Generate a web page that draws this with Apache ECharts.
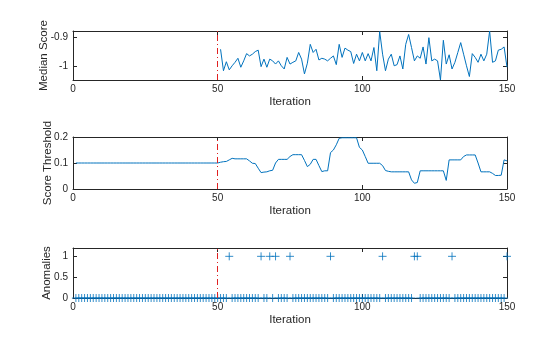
<!DOCTYPE html>
<html><head><meta charset="utf-8">
<script src="https://cdn.jsdelivr.net/npm/echarts@6/dist/echarts.min.js"></script>
<style>html,body{margin:0;padding:0;background:#fff}#c{width:560px;height:337px}</style>
</head><body><div id="c"></div>
<script>
// ---- data ----
const xTicks = [0, 50, 100, 150];
const trainEnd = 50;
const medianStart = 51;
const medianScore = [
 -0.940,-1.014,-0.983,-1.011,-0.997,-0.985,-0.971,-1.002,-0.980,-0.955,
 -0.963,-0.957,-0.948,-0.943,-1.000,-0.974,-1.002,-0.974,-0.980,-0.991,
 -0.980,-0.997,-1.008,-0.968,-0.991,-0.985,-0.980,-0.951,-0.974,-1.025,
 -0.988,-0.923,-0.951,-0.940,-0.977,-0.971,-0.974,-0.980,-0.971,-0.963,
 -0.993,-0.923,-0.968,-0.936,-0.943,-0.948,-0.989,-0.957,-0.980,-0.951,
 -0.980,-0.955,-0.980,-0.934,-1.014,-0.879,-0.957,-1.014,-0.974,-0.957,
 -0.997,-0.993,-0.963,-1.008,-0.923,-0.889,-0.934,-0.980,-0.963,-0.971,
 -0.932,-0.991,-0.900,-0.980,-0.974,-0.980,-1.046,-0.909,-0.991,-0.959,
 -1.008,-0.985,-0.951,-0.917,-0.957,-0.997,-1.034,-0.955,-0.968,-0.985,
 -0.957,-0.980,-0.957,-0.877,-0.985,-0.980,-0.943,-0.940,-0.932,-1.002
];
const medianTicks = [-1, -0.9];
const threshold = [
 0.1,0.1,0.1,0.1,0.1,0.1,0.1,0.1,0.1,0.1,
 0.1,0.1,0.1,0.1,0.1,0.1,0.1,0.1,0.1,0.1,
 0.1,0.1,0.1,0.1,0.1,0.1,0.1,0.1,0.1,0.1,
 0.1,0.1,0.1,0.1,0.1,0.1,0.1,0.1,0.1,0.1,
 0.1,0.1,0.1,0.1,0.1,0.1,0.1,0.1,0.1,0.1,
 0.103,0.105,0.106,0.112,0.118,0.116,0.116,0.116,0.116,0.116,
 0.108,0.099,0.098,0.080,0.063,0.065,0.066,0.070,0.072,0.100,
 0.114,0.114,0.114,0.114,0.125,0.132,0.132,0.132,0.132,0.110,
 0.086,0.095,0.114,0.114,0.090,0.067,0.070,0.070,0.140,0.150,
 0.170,0.195,0.197,0.197,0.197,0.197,0.197,0.197,0.160,0.150,
 0.125,0.099,0.099,0.099,0.099,0.099,0.090,0.071,0.068,0.066,
 0.066,0.066,0.066,0.066,0.066,0.066,0.035,0.022,0.025,0.070,
 0.070,0.070,0.070,0.070,0.070,0.070,0.070,0.070,0.033,0.112,
 0.112,0.112,0.112,0.112,0.125,0.131,0.131,0.131,0.131,0.100,
 0.066,0.066,0.066,0.066,0.060,0.052,0.052,0.053,0.112,0.108
];
const thresholdTicks = [0, 0.1, 0.2];
const anomalyIterations = [54, 65, 68, 70, 75, 89, 107, 118, 119, 131, 150];
const anomalyTicks = [0, 0.5, 1];
const nIter = 150;

// ---- build ----
const blue = '#0072BD', axisCol = '#262626', red = '#E02020';
const medianData = medianScore.map((v, k) => [medianStart + k, v]);
const thresholdData = threshold.map((v, k) => [k + 1, v]);
const anomalyData = [];
for (let i = 1; i <= nIter; i++) anomalyData.push([i, anomalyIterations.includes(i) ? 1 : 0]);

const grids = [
  {left: 73, top: 31, width: 434, height: 49},
  {left: 73, top: 137, width: 434, height: 52},
  {left: 73, top: 248, width: 434, height: 50}
];
const yConf = [
  {name: 'Median Score', min: -1.046, max: -0.877, ticks: medianTicks, gap: 23},
  {name: 'Score Threshold', min: 0, max: 0.2, ticks: thresholdTicks, gap: 19},
  {name: 'Anomalies', min: 0, max: 1.2, ticks: anomalyTicks, gap: 20}
];
const font = 'Liberation Sans, Arial, Helvetica, sans-serif';
const xAxis = [], yAxis = [];
grids.forEach((g, gi) => {
  xAxis.push({
    type: 'value', gridIndex: gi, min: 0, max: 150, position: 'bottom',
    name: 'Iteration', nameLocation: 'middle', nameGap: 16,
    nameTextStyle: {color: axisCol, fontSize: 11.5, fontFamily: font},
    axisLine: {show: true, onZero: false, lineStyle: {color: axisCol, width: 1}},
    axisTick: {show: true, inside: true, length: 4, customValues: xTicks, lineStyle: {color: axisCol}},
    axisLabel: {show: true, customValues: xTicks, margin: 4, color: axisCol, fontSize: 10, fontFamily: font},
    splitLine: {show: false}
  });
  xAxis.push({
    type: 'value', gridIndex: gi, min: 0, max: 150, position: 'top',
    axisLine: {show: true, onZero: false, lineStyle: {color: axisCol, width: 1}},
    axisTick: {show: true, inside: true, length: 4, customValues: xTicks, lineStyle: {color: axisCol}},
    axisLabel: {show: false}, splitLine: {show: false}
  });
  const y = yConf[gi];
  yAxis.push({
    type: 'value', gridIndex: gi, min: y.min, max: y.max, position: 'left',
    name: y.name, nameLocation: 'middle', nameGap: y.gap, nameRotate: 90,
    nameMoveOverlap: false,
    nameTextStyle: {color: axisCol, fontSize: 11.5, fontFamily: font},
    axisLine: {show: true, onZero: false, lineStyle: {color: axisCol, width: 1}},
    axisTick: {show: true, inside: true, length: 4, customValues: y.ticks, lineStyle: {color: axisCol}},
    axisLabel: {show: true, customValues: y.ticks, margin: 5, color: axisCol, fontSize: 10, fontFamily: font},
    splitLine: {show: false}
  });
  yAxis.push({
    type: 'value', gridIndex: gi, min: y.min, max: y.max, position: 'right',
    axisLine: {show: true, onZero: false, lineStyle: {color: axisCol, width: 1}},
    axisTick: {show: true, inside: true, length: 4, customValues: y.ticks, lineStyle: {color: axisCol}},
    axisLabel: {show: false}, splitLine: {show: false}
  });
});

const vline = {
  silent: true, symbol: 'none', label: {show: false},
  lineStyle: {color: red, width: 1, type: [6, 3, 1, 3]},
  data: [{xAxis: trainEnd}]
};
const plusPath = 'path://M5,0 L5,10 M0,5 L10,5';

const option = {
  animation: false,
  grid: grids,
  xAxis: xAxis,
  yAxis: yAxis,
  series: [
    {type: 'line', xAxisIndex: 0, yAxisIndex: 0, data: medianData, showSymbol: false,
     lineStyle: {color: blue, width: 1}, markLine: vline, z: 3},
    {type: 'line', xAxisIndex: 2, yAxisIndex: 2, data: thresholdData, showSymbol: false,
     lineStyle: {color: blue, width: 1}, markLine: vline, z: 3},
    {type: 'scatter', xAxisIndex: 4, yAxisIndex: 4, data: anomalyData, symbol: plusPath,
     symbolSize: 8, clip: false,
     itemStyle: {color: 'none', borderColor: blue, borderWidth: 1}, markLine: vline, z: 3}
  ]
};
const chart = echarts.init(document.getElementById('c'), null, {renderer: 'canvas'});
chart.setOption(option);
</script></body></html>
